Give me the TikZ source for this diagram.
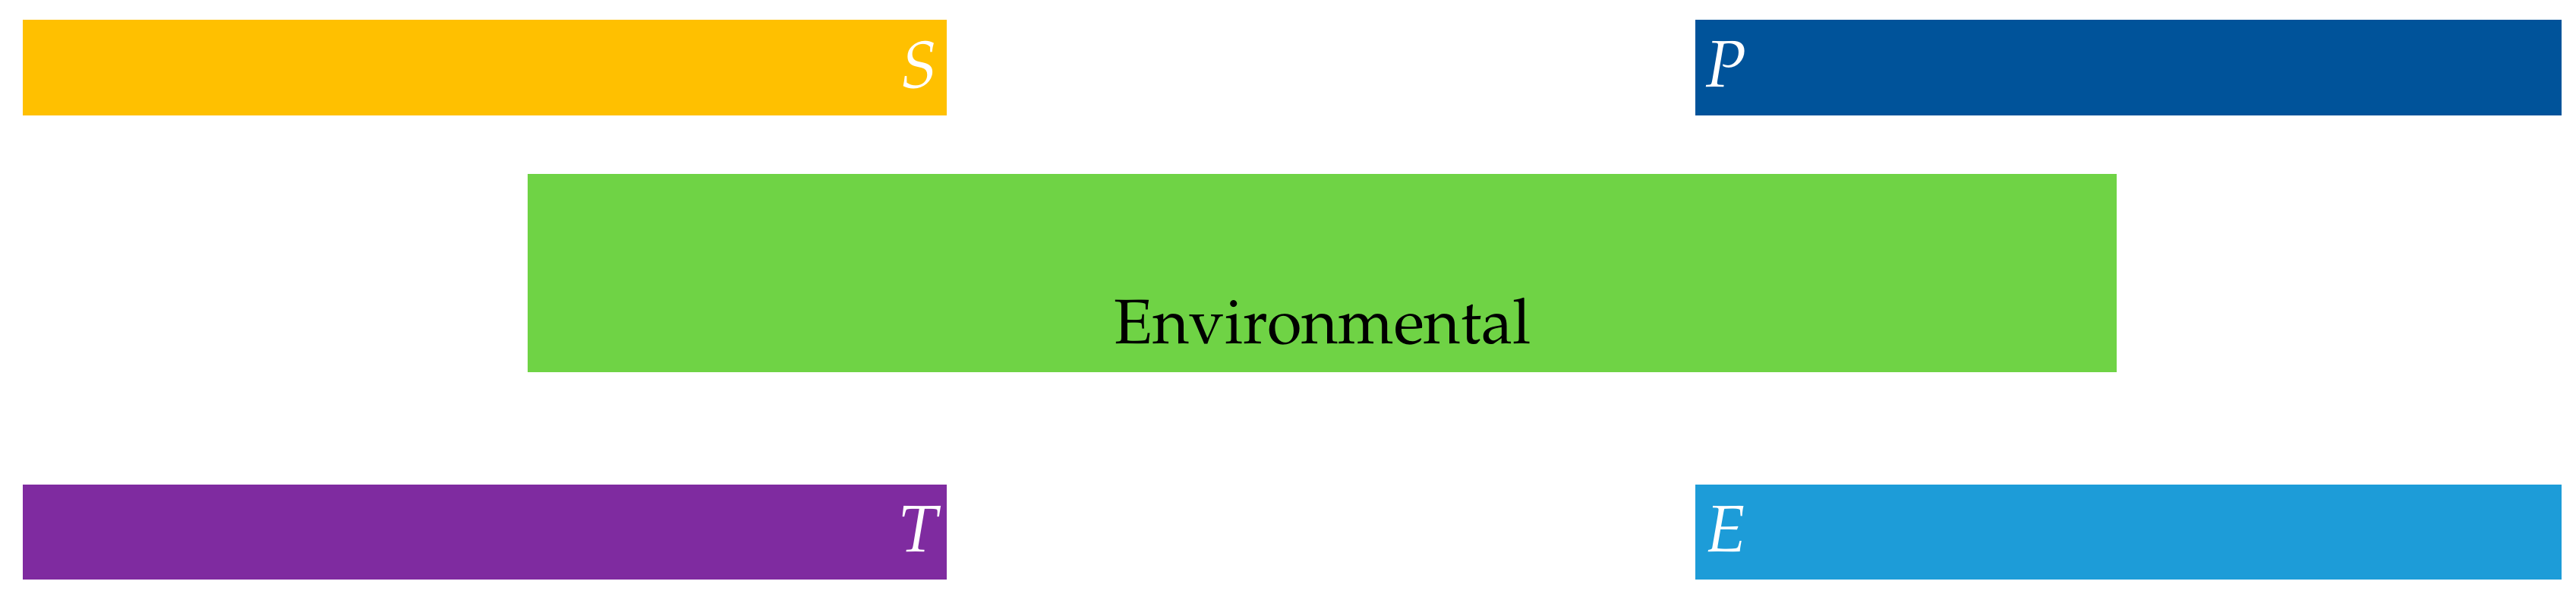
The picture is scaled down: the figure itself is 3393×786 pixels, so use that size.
\documentclass[tikz,border=0pt]{standalone}
\usepackage[T1]{fontenc}
\usepackage{mathpazo}
\definecolor{cyellow}{RGB}{255,192,0}
\definecolor{cblue}{RGB}{0,83,154}
\definecolor{cgreen}{RGB}{111,211,69}
\definecolor{cpurple}{RGB}{127,43,160}
\definecolor{clight}{RGB}{29,156,216}
\tikzset{
  bar/.style={rectangle, inner sep=0pt, draw=none, minimum height=1.26cm, minimum width=#1},
  letter/.style={text=white, inner sep=0pt, font=\fontsize{24.7}{30}\selectfont},
  envtext/.style={text=black, inner sep=0pt, font=\fontsize{23.6}{28}\selectfont}
}
\begin{document}
\begin{tikzpicture}[x=0.01cm,y=-0.01cm]
\useasboundingbox (0,0) rectangle (3393,786);
\node[bar=12.17cm, fill=cyellow] (S) at (638.5,89) {};
\node[bar=11.41cm, fill=cblue] (P) at (2803.5,89) {};
\node[bar=20.91cm, fill=cgreen, minimum height=2.61cm] (G) at (1741.5,359.5) {};
\node[bar=12.17cm, fill=cpurple, minimum height=1.25cm] (T) at (638.5,700.5) {};
\node[bar=11.41cm, fill=clight, minimum height=1.25cm] (E) at (2803.5,700.5) {};
\node[letter, anchor=base east] (Sl) at (1237,116) {$S$};
\node[letter, anchor=base west] (Pl) at (2243,115) {$P$};
\node[letter, anchor=base east] (Tl) at (1241,727) {$T$};
\node[letter, anchor=base west] (El) at (2244,727) {$E$};
\node[envtext, anchor=base west] (Gl) at (1467,453) {Environmental};
\end{tikzpicture}
\end{document}
